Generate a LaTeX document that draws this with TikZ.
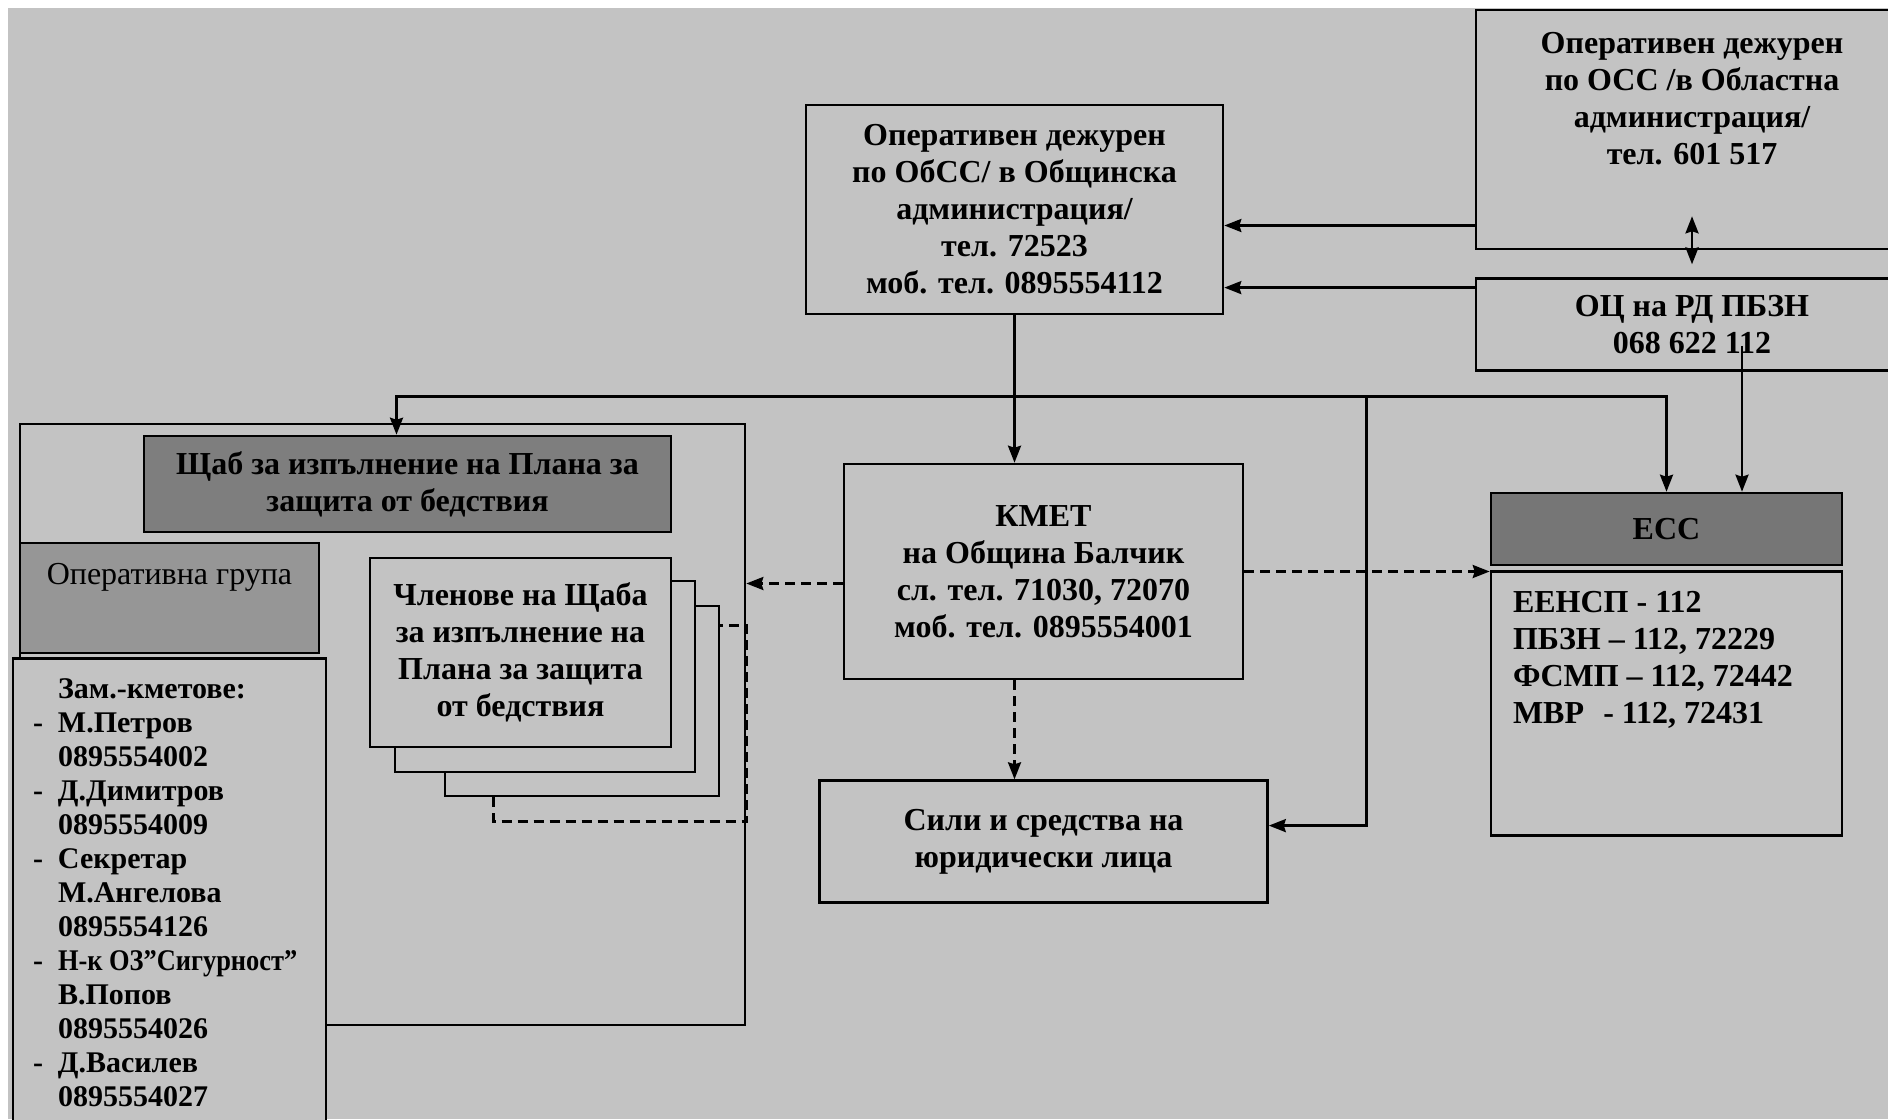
\documentclass[tikz,border=0pt]{standalone}
\usepackage{fontspec}
\usepackage{graphicx}
\setmainfont{Liberation Serif}
\usetikzlibrary{positioning,arrows.meta}

\definecolor{bggray}{RGB}{195,195,195}
\definecolor{shtabgray}{RGB}{126,126,126}
\definecolor{opgray}{RGB}{150,150,150}
\definecolor{essgray}{RGB}{118,118,118}

\begin{document}
\begin{tikzpicture}[->, >={Stealth[length=8.5pt,width=6.5pt,inset=1pt]}, auto, x=0.5pt, y=-0.5pt, line width=1.3pt, node distance=2cm]
    \tikzstyle{box}=[rectangle, draw=black, fill=bggray, text=black, align=center, inner sep=2pt,
        font=\fontsize{16}{18.5}\selectfont\bfseries]
    \tikzstyle{txt}=[align=center, inner sep=0pt, text=black, font=\fontsize{16}{18.5}\selectfont\bfseries]
    \tikzstyle{dashline}=[dash pattern=on 5pt off 3pt]

    % Page and background
    \useasboundingbox (0,0) rectangle (1888,1119);
    \fill[white] (0,0) rectangle (1888,1119);
    \fill[bggray] (8,8) rectangle (1888,1119);
    \clip (0,0) rectangle (1888,1119);

    % Define the boxes on the right
    \node[box, minimum width=208.5pt, minimum height=104.5pt] (obss) at (1014.5,209.5)
        {Оперативен дежурен\\ по ОбСС/ в Общинска\\ администрация/\\ тел. 72523\\ моб. тел. 0895554112};
    \node[box, minimum width=216pt, minimum height=119.5pt] (oss) at (1692,129.5) {};
    \node[txt, anchor=north] (osstext) at ([yshift=-11pt]oss.north)
        {Оперативен дежурен\\ по ОСС /в Областна\\ администрация/\\ тел. 601 517};
    \node[box, minimum width=216pt, minimum height=46pt, below=13.5pt of oss] (ocz)
        {ОЦ на РД ПБЗН\\ 068 622 112};

    \node[box, minimum width=199.5pt, minimum height=107.5pt] (kmet) at (1043.5,571.5)
        {КМЕТ\\ на Община Балчик\\ сл. тел. 71030, 72070\\ моб. тел. 0895554001};
    \node[box, minimum width=224pt, minimum height=61pt, below=49.5pt of kmet] (sili)
        {Сили и средства на\\ юридически лица};

    \node[box, fill=essgray, minimum width=175.5pt, minimum height=36pt] (esshead) at (1666.5,529) {ЕСС};
    \node[box, minimum width=175.5pt, minimum height=132pt, below=2pt of esshead] (esslist) {};
    \node[txt, align=left, anchor=north west] (esstext) at ([xshift=11pt,yshift=-10pt]esslist.north west)
        {ЕЕНСП - 112\\ ПБЗН – 112, 72229\\ ФСМП – 112, 72442\\ МВР\hspace{0.6em}- 112, 72431};

    % Define the boxes on the left
    \node[box, minimum width=362.5pt, minimum height=300.5pt] (frame) at (382.5,724.5) {};
    \node[box, fill=shtabgray, minimum width=263.5pt, minimum height=48pt] (shtab) at (407.5,484)
        {Щаб за изпълнение на Плана за\\ защита от бедствия};
    \node[box, fill=opgray, minimum width=149.5pt, minimum height=55pt] (opgroup) at (169.5,598) {};
    \node[txt, font=\fontsize{16}{18.5}\selectfont, anchor=north] (optext) at ([yshift=-10pt]opgroup.north)
        {Оперативна група};
    \node[box, minimum width=156.5pt, minimum height=250pt, below=1.5pt of opgroup] (zam) {};
    \node[txt, align=left, anchor=north west, font=\fontsize{15}{17}\selectfont\bfseries] (zamtext)
        at ([xshift=10pt,yshift=-8pt]zam.north west)
        {\begin{tabular}{@{}p{12.5pt}@{}l@{}}
             & Зам.-кметове:\\
           - & М.Петров\\
             & 0895554002\\
           - & Д.Димитров\\
             & 0895554009\\
           - & Секретар\\
             & М.Ангелова\\
             & 0895554126\\
           - & \scalebox{0.88}[1]{Н-к ОЗ”Сигурност”}\\
             & В.Попов\\
             & 0895554026\\
           - & Д.Василев\\
             & 0895554027
         \end{tabular}};

    % Stack of member cards
    \node[box, minimum width=137pt, minimum height=95pt] (card3) at (582,701) {};
    \node[box, minimum width=150pt, minimum height=95.5pt] (card2) at (545,676.5) {};
    \node[box, minimum width=150.5pt, minimum height=94.5pt] (members) at (520.5,652.5)
        {Членове на Щаба\\ за изпълнение на\\ Плана за защита\\ от бедствия};
    \coordinate (p5) at ([yshift=-10.5pt]card3.north east);
    \draw[-, dashline] ([xshift=25pt]card3.south west) -- ++(0,24) -| (p5 -| frame.east) -- (p5);

    % Connect the boxes with arrows
    \draw ([yshift=-48pt]oss.west) coordinate (p1) -- (p1 -| obss.east);
    \draw ([yshift=18.5pt]ocz.west) coordinate (p2) -- (p2 -| obss.east);
    \draw[<->] ([yshift=17pt]oss.south) -- ([yshift=6.5pt]ocz.north);

    \draw (obss.south) -- (obss.south |- kmet.north);
    \coordinate (bus) at ([yshift=-40.5pt]obss.south);
    \draw (bus) -| ([xshift=-5.5pt]shtab.north);
    \draw (bus) -| (esshead.north);
    \coordinate (busr) at ([xshift=176pt]bus);
    \draw (busr) |- ([yshift=8pt]sili.east);
    \draw ([xshift=25pt,yshift=13pt]ocz.south) coordinate (p3) -- (p3 |- esshead.north);

    \draw[dashline] ([yshift=-6pt]kmet.west) coordinate (p4) -- (p4 -| frame.east);
    \draw[dashline] (kmet.east) -- (kmet.east -| esslist.west);
    \draw[dashline] (kmet.south -| obss.south) -- (obss.south |- sili.north);
\end{tikzpicture}
\end{document}
